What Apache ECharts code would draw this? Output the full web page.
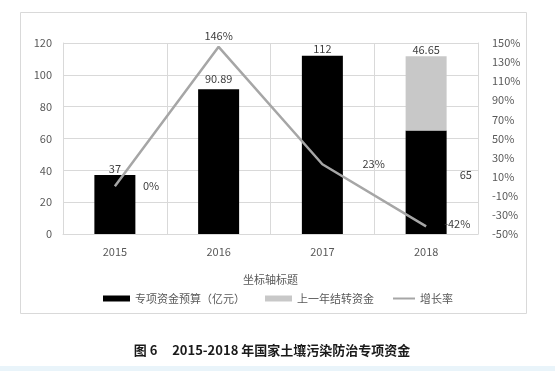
<!DOCTYPE html>
<html><head><meta charset="utf-8">
<script src="https://cdn.jsdelivr.net/npm/echarts@6/dist/echarts.min.js"></script>
<style>html,body{margin:0;padding:0;background:#fff}#c{width:555px;height:371px}</style>
</head><body><div id="c"></div>
<script>
const categories = ['2015', '2016', '2017', '2018'];
const budget = [37, 90.89, 112, 65];
const carryover = [null, null, null, 46.65];
const growth = [0, 146, 23, -42];
const leftTicks = [0, 20, 40, 60, 80, 100, 120];
const rightTicks = [-50, -30, -10, 10, 30, 50, 70, 90, 110, 130, 150];
const seriesNames = ['专项资金预算（亿元）', '上一年结转资金', '增长率'];
const axisTitle = '坐标轴标题';
const caption = '图 6\u00a0\u00a0\u00a0\u00a0\u00a02015-2018 年国家土壤污染防治专项资金';

const FONT = '"Noto Sans CJK SC", "Noto Sans", sans-serif';
const txt = '#595959';
const chart = echarts.init(document.getElementById('c'));

const budgetData = budget.map((v, i) => {
  if (i === 3) return { value: v, label: { position: 'right', distance: 13, offset: [0, -7] } };
  return { value: v, label: { position: 'top', distance: i === 1 ? 5 : 1 } };
});
const growthLabelCfg = [
  { position: 'right', distance: 28 },
  { position: 'top', distance: 5 },
  { position: 'right', distance: 40 },
  { position: 'right', distance: 18, offset: [0, -3] }
];
const growthData = growth.map((v, i) => ({ value: v, label: growthLabelCfg[i] }));

chart.setOption({
  backgroundColor: '#fff',
  animation: false,
  textStyle: { fontFamily: FONT },
  grid: { left: 63, right: 77, top: 43, bottom: 137 },
  legend: [
    { data: [seriesNames[0]], left: 98, top: 288, itemWidth: 27, itemHeight: 6, icon: 'rect',
      itemGap: 3, textStyle: { color: txt, fontSize: 11, fontFamily: FONT } },
    { data: [seriesNames[1]], left: 260, top: 288, itemWidth: 27, itemHeight: 6, icon: 'rect',
      textStyle: { color: txt, fontSize: 11, fontFamily: FONT } },
    { data: [seriesNames[2]], left: 388, top: 288, itemWidth: 22, itemHeight: 2, icon: 'rect',
      textStyle: { color: txt, fontSize: 11, fontFamily: FONT } }
  ],
  xAxis: {
    type: 'category', data: categories,
    name: axisTitle, nameLocation: 'middle', nameGap: 40,
    nameTextStyle: { color: txt, fontSize: 11, fontFamily: FONT },
    axisLine: { lineStyle: { color: '#d9d9d9' } },
    axisTick: { show: false },
    axisLabel: { color: txt, fontSize: 11, margin: 12 },
    splitLine: { show: true, lineStyle: { color: '#d9d9d9' } }
  },
  yAxis: [
    { type: 'value', min: 0, max: 120, interval: 20,
      axisLine: { show: true, lineStyle: { color: '#d9d9d9' } }, axisTick: { show: false },
      axisLabel: { color: txt, fontSize: 11, margin: 11, customValues: leftTicks },
      splitLine: { lineStyle: { color: '#d9d9d9' } } },
    { type: 'value', min: -50, max: 150,
      axisLine: { show: true, lineStyle: { color: '#d9d9d9' } }, axisTick: { show: false },
      axisLabel: { color: txt, fontSize: 11, margin: 14, customValues: rightTicks, formatter: v => v + '%' },
      splitLine: { show: false } }
  ],
  series: [
    { name: seriesNames[0], type: 'bar', stack: 'a', barWidth: 41, data: budgetData,
      itemStyle: { color: '#000' },
      label: { show: true, color: '#404040', fontSize: 11 } },
    { name: seriesNames[1], type: 'bar', stack: 'a', barWidth: 41, data: carryover,
      itemStyle: { color: '#c8c8c8' },
      label: { show: true, position: 'top', distance: 1, color: '#404040', fontSize: 11 } },
    { name: seriesNames[2], type: 'line', yAxisIndex: 1, data: growthData,
      symbol: 'circle', symbolSize: 0.1, showSymbol: true, z: 5,
      lineStyle: { color: '#a6a6a6', width: 2.5 }, itemStyle: { color: '#a6a6a6' },
      label: { show: true, color: '#404040', fontSize: 11, formatter: p => p.value + '%' } }
  ],
  graphic: [
    { type: 'rect', shape: { x: 20.5, y: 12.5, width: 506, height: 301 },
      style: { fill: 'none', stroke: '#d9d9d9', lineWidth: 1 }, silent: true },
    { type: 'rect', shape: { x: 0, y: 366, width: 555, height: 5 },
      style: { fill: '#e9f4fa' }, silent: true },
    { type: 'text', x: 272, y: 350,
      style: { text: caption, fill: '#1a1a1a', font: 'bold 13px "Noto Sans CJK SC", sans-serif',
        textAlign: 'center', textVerticalAlign: 'middle' } }
  ]
});
</script></body></html>
